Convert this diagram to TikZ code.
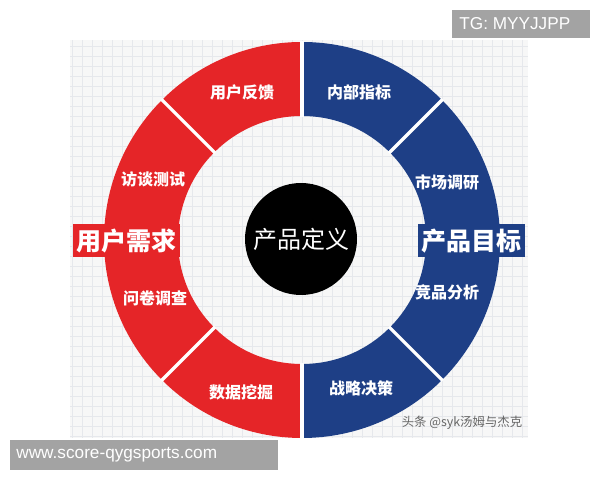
\documentclass[tikz,border=0pt]{standalone}
\usepackage{fontspec}
\setmainfont{Liberation Sans}
\newfontfamily\cjk{Noto Sans CJK SC}
\usepackage{tikz}
\usetikzlibrary{positioning}
\definecolor{ringred}{HTML}{E52528}
\definecolor{ringblue}{HTML}{1E3F86}
\definecolor{markgray}{HTML}{A3A3A3}
\definecolor{gridgray}{HTML}{E6E8EC}

\begin{document}
\begin{tikzpicture}[x=0.5pt,y=0.5pt]
    \tikzstyle{gridline} = [gridgray, line width=0.35pt]
    \tikzstyle{divider} = [white, line width=1.6pt]
    \tikzstyle{seglabel} = [text=white, font=\cjk\bfseries\fontsize{8}{9}\selectfont, inner sep=1pt]
    \tikzstyle{sidelabel} = [text=white, font=\cjk\bfseries\fontsize{12.5}{14}\selectfont, inner sep=1pt, minimum width=53.5pt, minimum height=16.5pt]
    \tikzstyle{markbox} = [fill=markgray, text=white, anchor=north west, inner sep=0pt, font=\fontsize{8.6}{10}\selectfont]
    \useasboundingbox (0,0) rectangle (600,480);
    \fill[white] (0,0) rectangle (600,480);
    % grid panel
    \fill[black!3] (70,42) rectangle (528,440);
    \foreach \gx in {72,82,...,528}
    {
    	\draw[gridline] (\gx,42) -- (\gx,440);
    }
    \foreach \gy in {44,54,...,440}
    {
    	\draw[gridline] (70,\gy) -- (528,\gy);
    }
    
    \coordinate (c) at (302,240);
    % ring halves
    \fill[ringred] ([shift={(90:198)}]c) arc (90:270:198) -- ([shift={(270:124)}]c) arc (270:90:124) -- cycle;
    \fill[ringblue] ([shift={(-90:198)}]c) arc (-90:90:198) -- ([shift={(90:124)}]c) arc (90:-90:124) -- cycle;
    \foreach \a in {45,135,225,315}
    {
    	\draw[divider] ([shift={(\a:123)}]c) -- ([shift={(\a:199)}]c);
    }
    \draw[white, line width=2pt] ([shift={(90:123)}]c) -- ([shift={(90:199)}]c);
    \draw[white, line width=2pt] ([shift={(270:123)}]c) -- ([shift={(270:199)}]c);
    
    \node[circle, fill=black, minimum size=56pt, inner sep=0pt, text=white, font=\cjk\fontsize{12}{14}\selectfont] (core) at (301,241) {产品定义};
    
    \node[seglabel] (feedback) at (242,388) {用户反馈};
    \node[seglabel] (interview) at (153,301) {访谈测试};
    \node[seglabel] (survey) at (155,182) {问卷调查};
    \node[seglabel] (mining) at (241,88) {数据挖掘};
    \node[seglabel] (metric) at (359,388) {内部指标};
    \node[seglabel] (market) at (447,298) {市场调研};
    \node[seglabel] (rival) at (447,188) {竞品分析};
    \node[seglabel] (strategy) at (361,92) {战略决策};
    
    \node[sidelabel, fill=ringred] (needs) at (126.5,239) {用户需求};
    \node[sidelabel, fill=ringblue] (goals) at (471.5,239) {产品目标};
    
    \node[text=black!60, font=\cjk\fontsize{6.2}{7}\selectfont, inner sep=0pt] (credit) at (462,57) {头条 @syk汤姆与杰克};
    
    \node[markbox, minimum width=69pt, minimum height=14pt] (tgmark) at (452,470) {};
    \node[text=white, font=\fontsize{8.6}{10}\selectfont, anchor=west, inner sep=0pt] (tgtext) at (459,456) {TG: MYYJJPP};
    \node[markbox, minimum width=134pt, minimum height=15pt] (webmark) at (10,40) {};
    \node[text=white, font=\fontsize{8.6}{10}\selectfont, anchor=west, inner sep=0pt] (webtext) at (16,25) {www.score-qygsports.com};
\end{tikzpicture}
\end{document}
